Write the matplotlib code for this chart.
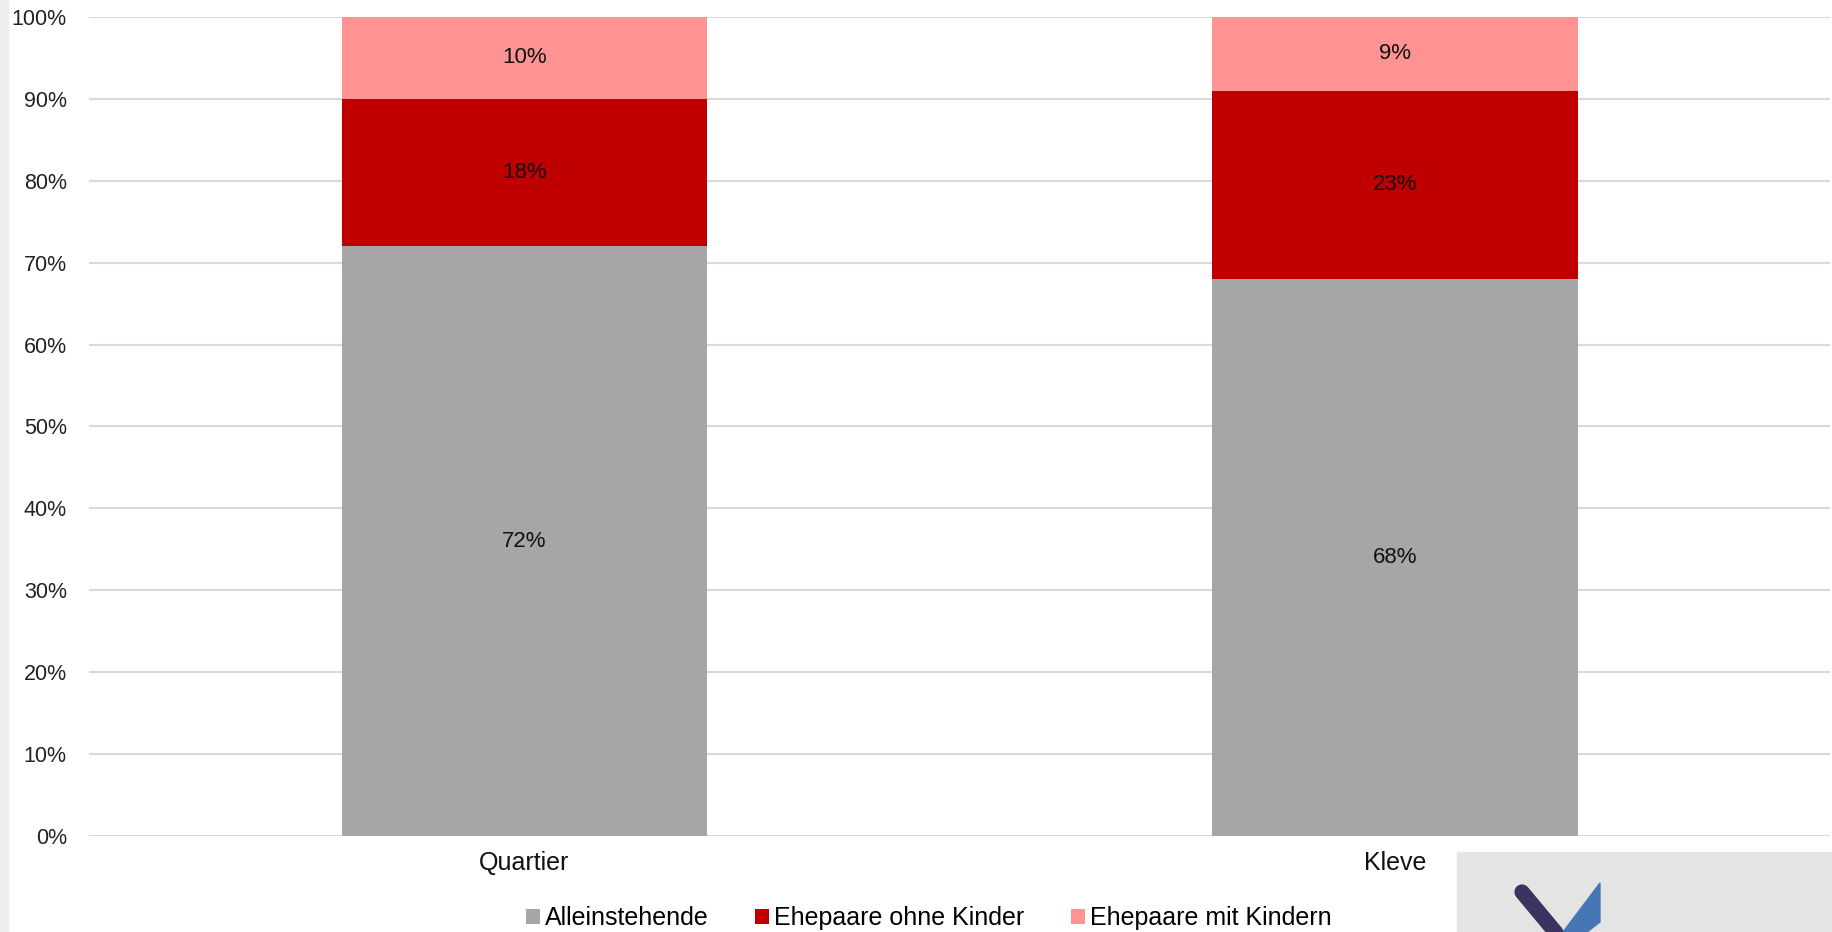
import matplotlib.pyplot as plt
from matplotlib.patches import Rectangle, Polygon
from matplotlib.lines import Line2D

categories = ['Quartier', 'Kleve']
series_names = ['Alleinstehende', 'Ehepaare ohne Kinder', 'Ehepaare mit Kindern']
alleinstehende = [72, 68]
ohne_kinder = [18, 23]
mit_kindern = [10, 9]
colors = ['#a6a6a6', '#c00000', '#ff9393']
y_ticks = [0, 10, 20, 30, 40, 50, 60, 70, 80, 90, 100]

plt.rcParams['font.family'] = ['Liberation Sans', 'DejaVu Sans']

fig = plt.figure(figsize=(18.33, 9.32), dpi=100)
ax = fig.add_axes([0.0486, 0.1030, 0.9498, 0.8788])

x = list(range(len(categories)))
bottom = [0] * len(categories)
for name, vals, col in zip(series_names, [alleinstehende, ohne_kinder, mit_kindern], colors):
    ax.bar(x, vals, width=0.42, bottom=bottom, color=col, label=name, zorder=2)
    # value labels in the middle of each segment
    for xi, b, v in zip(x, bottom, vals):
        ax.text(xi, b + v / 2, f'{v}%', ha='center', va='center', fontsize=16, color='#111111', zorder=3)
    bottom = [b + v for b, v in zip(bottom, vals)]

ax.set_xlim(-0.5, 1.5)
ax.set_ylim(0, 100)
ax.set_yticks(y_ticks)
ax.set_yticklabels([f'{t}%' for t in y_ticks])
ax.yaxis.grid(True, color='#d9d9d9', linewidth=1.5, zorder=0)
ax.set_axisbelow(True)
for s in ax.spines.values():
    s.set_visible(False)
ax.tick_params(axis='y', length=0, pad=16, labelsize=15.5, labelcolor='#222222')
ax.tick_params(axis='x', length=0, pad=11)
ax.set_xticks(x)
ax.set_xticklabels(categories, fontsize=18, color='#111111')

fig.legend(loc='center', bbox_to_anchor=(0.5068, 0.015), ncol=3, frameon=False,
           fontsize=18, handlelength=0.56, handleheight=0.56, handletextpad=0.2,
           columnspacing=1.85, borderpad=0)

# left shadow edge
fig.patches.append(Rectangle((0, 0), 0.0045, 1, transform=fig.transFigure, color='#ededed', zorder=0))

# logo corner
W, H = 1833.0, 932.0
fig.patches.append(Rectangle((1457 / W, 0), 1 - 1457 / W, (932 - 852) / H,
                             transform=fig.transFigure, color='#e4e4e4', zorder=5))
fig.lines.append(Line2D([1522 / W, 1562 / W], [1 - 892 / H, 1 - 940 / H], transform=fig.transFigure,
                        color='#3b3460', linewidth=11, solid_capstyle='round', zorder=6))
fig.patches.append(Polygon([(1600 / W, 1 - 883 / H), (1600 / W, 1 - 922 / H),
                            (1587 / W, 0), (1563 / W, 0)],
                           closed=True, transform=fig.transFigure, color='#4677b4', zorder=7))

fig.savefig('out.png', dpi=100)
